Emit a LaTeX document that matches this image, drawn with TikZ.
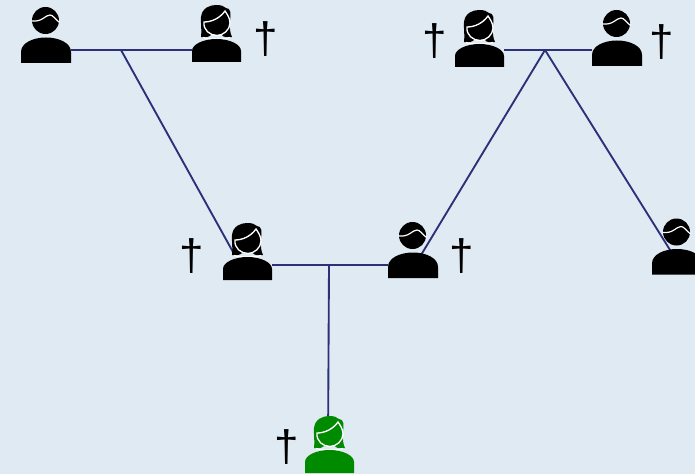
\documentclass[tikz,border=0pt]{standalone}
\usepackage{fontspec}
\setmainfont{Liberation Sans}
\definecolor{bgc}{HTML}{DFEAF3}
\definecolor{linec}{HTML}{2B3078}
\definecolor{greenc}{HTML}{008A00}
\tikzset{
  x=0.75pt,y=-0.75pt,
  personbox/.style={rectangle,inner sep=0pt,outer sep=0pt,minimum width=37.5pt,minimum height=41.25pt,anchor=north west},
  womanbox/.style={personbox,minimum width=36.75pt},
  conn/.style={draw=linec,line width=1.4pt},
  deathmark/.style={font=\fontsize{33}{33}\selectfont,inner sep=0pt,text=black},
  man/.pic={
    \fill[pic actions] (24.5,12.5) circle (13.5);
    \draw[white,line width=0.9pt] (10.5,13) .. controls (15,13.5) and (19,12.5) .. (22,10.5) .. controls (25,8.5) and (27,7) .. (29,7) .. controls (32,7) and (34,11) .. (38.5,14.5);
    \fill[pic actions] (0,55) -- (0,44) .. controls (0,35) and (12,29.5) .. (25,29.5) .. controls (38,29.5) and (50,35) .. (50,44) -- (50,55) -- cycle;
  },
  woman/.pic={
    \fill[pic actions] (9,32) .. controls (10,26) and (8.5,18) .. (9,12) .. controls (10,3) and (18,0) .. (24,0) .. controls (29,0) and (32,1) .. (34,3) .. controls (39,3) and (39,9) .. (38,16) .. controls (37.5,23) and (38,28) .. (40,32) .. controls (35,33) and (31,32) .. (30,30) -- (19,30) .. controls (17,32) and (13,33) .. (9,32) -- cycle;
    \draw[white,line width=1pt] (12,17) .. controls (20,17) and (28,13) .. (33,6) .. controls (35,9) and (38,13) .. (38,18) .. controls (38,25) and (31,30.5) .. (25,30.5) .. controls (18,30.5) and (11,25) .. (12,17) -- cycle;
    \draw[white,line width=0.9pt] (11,32.5) .. controls (18,34.5) and (30,34.5) .. (38,32.5);
    \fill[pic actions] (0,57) -- (0,46) .. controls (0,39) and (12,34) .. (24.5,34) .. controls (37,34) and (49,39) .. (49,46) -- (49,57) -- cycle;
  }
}
\begin{document}
\begin{tikzpicture}
\useasboundingbox (0,0) rectangle (695,474);
\fill[bgc] (0,0) rectangle (695,474);
\clip (0,0) rectangle (695,474);
% anchor boxes for the people
\node[personbox] (gf1) at (21,8) {};
\node[womanbox] (gm1) at (192,5) {};
\node[womanbox] (gm2) at (455,10) {};
\node[personbox] (gf2) at (592,11) {};
\node[womanbox] (mother) at (223,223) {};
\node[personbox] (father) at (388,223) {};
\node[personbox] (uncle) at (652,219.5) {};
\node[womanbox] (child) at (305,416) {};
% junctions
\coordinate (j1) at (121,50);
\coordinate (j2) at (329,265);
\coordinate (j3) at (545,50);
% connectors
\draw[conn] (gf1.east |- j1) -- (gm1.west |- j1);
\draw[conn] (gm2.east |- j3) -- (gf2.west |- j3);
\draw[conn] (mother.east |- j2) -- (father.west |- j2);
\draw[conn] (j1) -- ([xshift=8pt,yshift=-2pt]mother.west);
\draw[conn] (j3) -- ([xshift=-12.5pt,yshift=-3pt]father.east);
\draw[conn] (j3) -- ([xshift=14pt,yshift=-3pt]uncle.west);
\draw[conn] (j2) -- ([xshift=-1pt]child.north);
% people
\pic[fill=black] at (gf1.north west) {man};
\pic[fill=black] at (gm1.north west) {woman};
\pic[fill=black] at (gm2.north west) {woman};
\pic[fill=black] at (gf2.north west) {man};
\pic[fill=black] at (mother.north west) {woman};
\pic[fill=black] at (father.north west) {man};
\pic[fill=black] at (uncle.north west) {man};
\pic[fill=greenc] at (child.north west) {woman};
% marks
\node[deathmark] (d1) at (265.5,39) {†};
\node[deathmark] (d2) at (434.5,41) {†};
\node[deathmark] (d3) at (662,42) {†};
\node[deathmark] (d4) at (191.5,256) {†};
\node[deathmark] (d5) at (461.5,256) {†};
\node[deathmark] (d6) at (287,447) {†};
\end{tikzpicture}
\end{document}
